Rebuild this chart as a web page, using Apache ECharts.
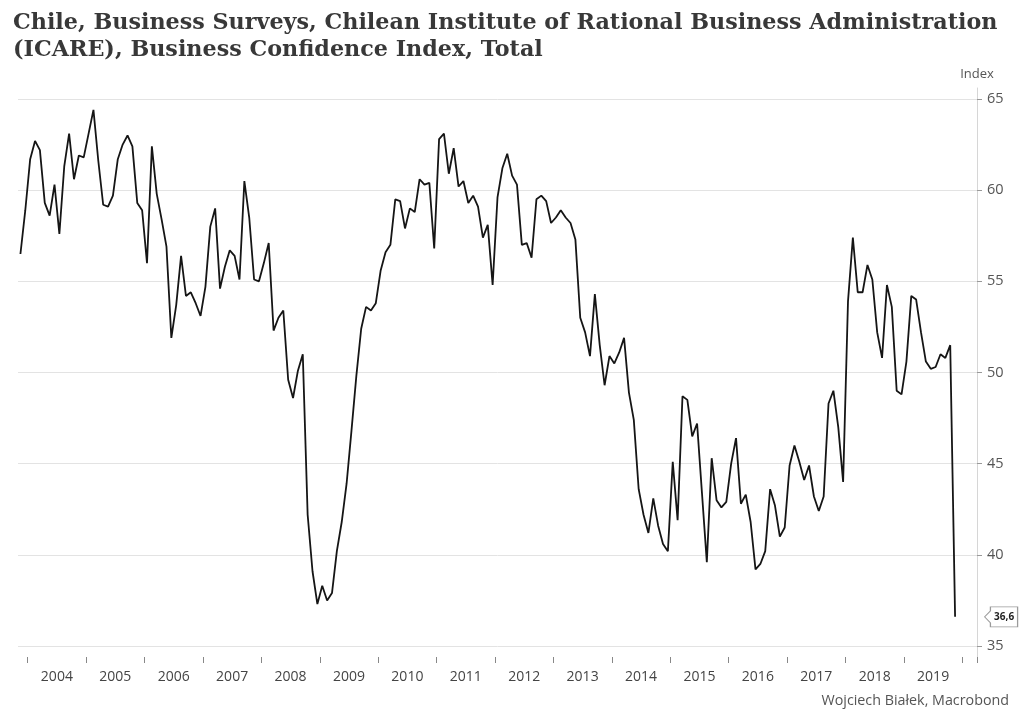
<!DOCTYPE html>
<html>
<head>
<meta charset="utf-8">
<script src="https://cdn.jsdelivr.net/npm/echarts@6/dist/echarts.min.js"></script>
<style>
html,body{margin:0;padding:0;background:#fff;}
#chart{width:1024px;height:724px;}
</style>
</head>
<body>
<div id="chart"></div>
<script>
// Monthly values, Nov 2003 .. Nov 2019
const v2003 = [56.5, 58.9];
const v2004 = [61.7, 62.7, 62.2, 59.3, 58.6, 60.3, 57.6, 61.3, 63.1, 60.6, 61.9, 61.8];
const v2005 = [63.1, 64.4, 61.6, 59.2, 59.1, 59.7, 61.7, 62.5, 63.0, 62.4, 59.3, 58.9];
const v2006 = [56.0, 62.4, 59.8, 58.4, 56.9, 51.9, 53.7, 56.4, 54.2, 54.4, 53.8, 53.1];
const v2007 = [54.7, 58.0, 59.0, 54.6, 55.8, 56.7, 56.4, 55.1, 60.5, 58.5, 55.1, 55.0];
const v2008 = [56.0, 57.1, 52.3, 53.0, 53.4, 49.6, 48.6, 50.1, 51.0, 42.2, 39.1, 37.3];
const v2009 = [38.3, 37.5, 37.9, 40.2, 41.8, 43.9, 46.8, 49.8, 52.4, 53.6, 53.4, 53.8];
const v2010 = [55.6, 56.6, 57.0, 59.5, 59.4, 57.9, 59.0, 58.8, 60.6, 60.3, 60.4, 56.8];
const v2011 = [62.8, 63.1, 60.9, 62.3, 60.2, 60.5, 59.3, 59.7, 59.1, 57.4, 58.1, 54.8];
const v2012 = [59.6, 61.2, 62.0, 60.8, 60.3, 57.0, 57.1, 56.3, 59.5, 59.7, 59.4, 58.2];
const v2013 = [58.5, 58.9, 58.5, 58.2, 57.3, 53.0, 52.2, 50.9, 54.3, 51.5, 49.3, 50.9];
const v2014 = [50.5, 51.1, 51.9, 48.9, 47.4, 43.6, 42.2, 41.2, 43.1, 41.6, 40.6, 40.2];
const v2015 = [45.1, 41.9, 48.7, 48.5, 46.5, 47.2, 43.4, 39.6, 45.3, 43.0, 42.6, 42.9];
const v2016 = [45.0, 46.4, 42.8, 43.3, 41.8, 39.2, 39.5, 40.2, 43.6, 42.7, 41.0, 41.5];
const v2017 = [44.9, 46.0, 45.1, 44.1, 44.9, 43.2, 42.4, 43.2, 48.3, 49.0, 47.0, 44.0];
const v2018 = [53.9, 57.4, 54.4, 54.4, 55.9, 55.1, 52.2, 50.8, 54.8, 53.6, 49.0, 48.8];
const v2019 = [50.6, 54.2, 54.0, 52.2, 50.6, 50.2, 50.3, 51.0, 50.8, 51.5, 36.6];

const yTicks = [35, 40, 45, 50, 55, 60, 65];
const titleLines = ['Chile, Business Surveys, Chilean Institute of Rational Business Administration',
                    '(ICARE), Business Confidence Index, Total'];
const unitLabel = 'Index';
const sourceLabel = 'Wojciech Białek, Macrobond';

// axis months: Nov 2003 .. Mar 2020
const axisStart = [2003, 11];
const axisEnd = [2020, 3];

const values = [].concat(v2003, v2004, v2005, v2006, v2007, v2008, v2009, v2010,
  v2011, v2012, v2013, v2014, v2015, v2016, v2017, v2018, v2019);

const months = [];
{
  let y = axisStart[0], m = axisStart[1];
  while (y < axisEnd[0] || (y === axisEnd[0] && m <= axisEnd[1])) {
    months.push(y + '-' + (m < 10 ? '0' + m : '' + m));
    m++; if (m > 12) { m = 1; y++; }
  }
}
const lastIdx = values.length - 1;

const chart = echarts.init(document.getElementById('chart'), null, {renderer: 'canvas'});
const gridLeft = 18, gridRight = 47;
chart.setOption({
  animation: false,
  backgroundColor: '#ffffff',
  title: [{
    text: titleLines.join('\n'),
    left: 8, top: 5,
    textStyle: {fontFamily: 'DejaVu Serif', fontWeight: 'bold', fontSize: 22.25, lineHeight: 27, color: '#383838'}
  }, {
    text: sourceLabel,
    right: 10, bottom: 11,
    textStyle: {fontFamily: 'Open Sans', fontWeight: 'normal', fontSize: 14.3, color: '#555'}
  }],
  grid: [
    {left: gridLeft, right: gridRight, top: 99, bottom: 78},
    {left: gridLeft, right: gridRight, top: 88, bottom: 62}
  ],
  xAxis: [{
    type: 'category', data: months, boundaryGap: true, gridIndex: 0, offset: 11,
    axisLine: {show: false},
    axisTick: {show: true, length: 6, lineStyle: {color: '#888'},
      interval: function (i, v) { return v.slice(5) === '01'; }},
    axisLabel: {show: true, color: '#444', fontFamily: 'Open Sans', fontSize: 14, margin: 13,
      padding: [0, 5, 0, 0],
      interval: function (i, v) { return v.slice(5) === '07'; },
      formatter: function (v) { return v.slice(0, 4); }},
    splitLine: {show: false}
  }, {
    type: 'category', data: months, gridIndex: 1, show: false
  }],
  yAxis: [{
    type: 'value', gridIndex: 0, position: 'right',
    min: yTicks[0], max: yTicks[yTicks.length - 1], interval: 5,
    name: unitLabel, nameLocation: 'end', nameGap: 18,
    nameTextStyle: {color: '#555', fontFamily: 'Open Sans', fontSize: 13, align: 'center'},
    axisLine: {show: false},
    axisTick: {show: true, length: 5, lineStyle: {color: '#999'}},
    axisLabel: {color: '#555', fontFamily: 'Open Sans', fontSize: 14.5, margin: 10},
    splitLine: {show: true, lineStyle: {color: '#e3e3e3', width: 1}}
  }, {
    type: 'value', gridIndex: 1, position: 'right', min: 0, max: 1,
    axisLine: {show: true, lineStyle: {color: '#d6d6d6', width: 1}},
    axisTick: {show: false}, axisLabel: {show: false}, splitLine: {show: false}
  }],
  series: [{
    type: 'line', xAxisIndex: 0, yAxisIndex: 0,
    data: values, symbol: 'none', smooth: false,
    lineStyle: {color: '#151515', width: 1.8},
    markPoint: {
      symbol: 'path://M0,10 L6,4 L6,0 L34,0 L34,20 L6,20 L6,16 Z',
      symbolSize: [33, 20],
      symbolOffset: [46, 0],
      silent: true,
      itemStyle: {color: '#ffffff', borderColor: '#9a9a9a', borderWidth: 1},
      label: {show: true, position: 'inside', offset: [3, 0], color: '#222',
        fontFamily: 'Open Sans', fontSize: 10, fontWeight: 'bold',
        formatter: function (p) { return String(p.value).replace('.', ','); }},
      data: [{coord: [months[lastIdx], values[lastIdx]], value: values[lastIdx]}]
    }
  }]
});
</script>
</body>
</html>
